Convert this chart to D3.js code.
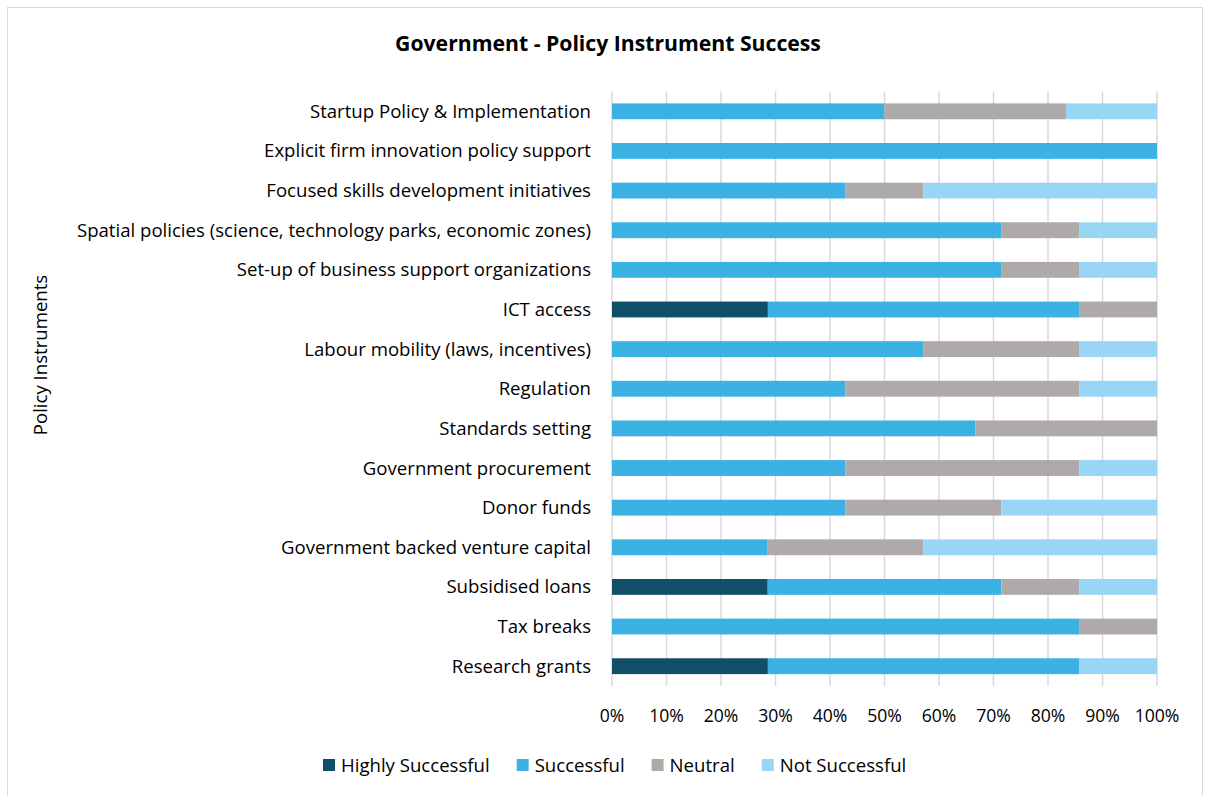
<!DOCTYPE html>
<html>
<head>
<meta charset="utf-8">
<script src="https://cdn.jsdelivr.net/npm/d3@7"></script>
<style>
  body { margin: 0; background: #fff; }
  svg { font-family: "Open Sans", Lato, sans-serif; }
</style>
</head>
<body>
<svg id="chart" width="1205" height="796"></svg>
<script>
// categories, top to bottom
var categories = [
  "Startup Policy & Implementation",
  "Explicit firm innovation policy support",
  "Focused skills development initiatives",
  "Spatial policies (science, technology parks, economic zones)",
  "Set-up of business support organizations",
  "ICT access",
  "Labour mobility (laws, incentives)",
  "Regulation",
  "Standards setting",
  "Government procurement",
  "Donor funds",
  "Government backed venture capital",
  "Subsidised loans",
  "Tax breaks",
  "Research grants"
];
var seriesNames = ["Highly Successful", "Successful", "Neutral", "Not Successful"];
var colors = ["#114e69", "#3bb2e3", "#aeaaaa", "#99d5f4"];

var highly     = [0, 0, 0, 0, 0, 28.6, 0, 0, 0, 0, 0, 0, 28.6, 0, 28.6];
var successful = [50, 100, 42.9, 71.4, 71.4, 57.1, 57.1, 42.9, 66.7, 42.9, 42.9, 28.6, 42.9, 85.7, 57.1];
var neutral    = [33.3, 0, 14.3, 14.3, 14.3, 14.3, 28.6, 42.9, 33.3, 42.9, 28.6, 28.6, 14.3, 14.3, 0];
var notSucc    = [16.7, 0, 42.9, 14.3, 14.3, 0, 14.3, 14.3, 0, 14.3, 28.6, 42.9, 14.3, 0, 14.3];
var xTicks = [0, 0.1, 0.2, 0.3, 0.4, 0.5, 0.6, 0.7, 0.8, 0.9, 1];

var rows = categories.map(function(c, i) {
  var vals = [highly[i], successful[i], neutral[i], notSucc[i]];
  var tot = d3.sum(vals);
  var r = { cat: c };
  seriesNames.forEach(function(s, j) { r[s] = vals[j] / tot; });
  return r;
});

var svg = d3.select("#chart");
var fs = 18.6;

// outer frame
svg.append("rect").attr("x", 7.5).attr("y", 7.5).attr("width", 1195).attr("height", 800)
  .attr("fill", "none").attr("stroke", "#d9d9d9");

var pLeft = 612, pRight = 1157, pTop = 91.5, pBottom = 686;

var x = d3.scaleLinear().domain([0, 1]).range([pLeft, pRight]);
var y = d3.scaleBand().domain(categories).range([pTop, pBottom]).paddingInner(0.6).paddingOuter(0.3);

// gridlines
svg.append("g").selectAll("line").data(xTicks).enter().append("line")
  .attr("x1", function(d) { return x(d); }).attr("x2", function(d) { return x(d); })
  .attr("y1", pTop).attr("y2", pBottom)
  .attr("stroke", "#d9d9d9").attr("stroke-width", 1.5);

// bars
var stack = d3.stack().keys(seriesNames)(rows);
svg.append("g").selectAll("g").data(stack).enter().append("g")
  .attr("fill", function(d, i) { return colors[i]; })
  .selectAll("rect").data(function(d) { return d; }).enter().append("rect")
  .attr("x", function(d) { return x(d[0]); })
  .attr("width", function(d) { return x(d[1]) - x(d[0]); })
  .attr("y", function(d) { return y(d.data.cat); })
  .attr("height", y.bandwidth());

// y labels
svg.append("g").selectAll("text").data(categories).enter().append("text")
  .attr("x", 591).attr("y", function(d) { return y(d) + y.bandwidth() / 2; })
  .attr("dy", "0.35em").attr("text-anchor", "end")
  .attr("font-size", fs).attr("fill", "#000")
  .text(function(d) { return d; });

// x tick labels
svg.append("g").selectAll("text").data(xTicks).enter().append("text")
  .attr("x", function(d) { return x(d); }).attr("y", 716).attr("dy", "0.35em")
  .attr("text-anchor", "middle").attr("font-size", 17.6).attr("fill", "#000")
  .text(d3.format(".0%"));

// title
svg.append("text").attr("x", 608).attr("y", 44).attr("dy", "0.35em")
  .attr("text-anchor", "middle").attr("font-size", 21.2).attr("font-weight", "bold")
  .text("Government - Policy Instrument Success");

// y axis title
svg.append("text").attr("transform", "translate(40,355) rotate(-90)")
  .attr("dy", "0.35em").attr("text-anchor", "middle").attr("font-size", fs)
  .text("Policy Instruments");

// legend
var lg = svg.append("g");
var lx = 323;
seriesNames.forEach(function(s, i) {
  var g = lg.append("g").attr("transform", "translate(" + lx + ",765)");
  g.append("rect").attr("x", 0).attr("y", -6).attr("width", 12).attr("height", 12).attr("fill", colors[i]);
  var t = g.append("text").attr("x", 18).attr("dy", "0.35em").attr("font-size", fs).text(s);
  lx += 18 + t.node().getComputedTextLength() + 27;
});
</script>
</body>
</html>
